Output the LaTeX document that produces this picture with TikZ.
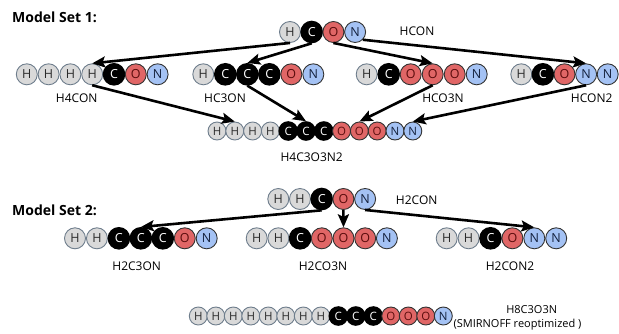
\documentclass[tikz,border=0pt]{standalone}
\usepackage{fontspec}
\setmainfont{Open Sans}
\usetikzlibrary{arrows.meta}
\definecolor{hfill}{HTML}{D9D9D9}
\definecolor{hdraw}{HTML}{6E7D8C}
\definecolor{htext}{HTML}{2A2A2A}
\definecolor{ofill}{HTML}{E06666}
\definecolor{otext}{HTML}{5A0C0C}
\definecolor{nfill}{HTML}{A4C2F4}
\definecolor{ntext}{HTML}{14213D}
\definecolor{adraw}{HTML}{333333}
\newcommand\molrow[6]{%
  \foreach \a [count=\i from 1] in {#5} {%
    \node[el\a,#6] (#1\i) at ({#2+(\i-1)*#4},#3) {\a};}}
\tikzset{
  atom/.style={circle, inner sep=0pt, minimum size=21pt, line width=0.9pt,
    font=\fontsize{12.5}{12.5}\selectfont},
  elH/.style={atom, fill=hfill, draw=hdraw, text=htext},
  elC/.style={atom, fill=black, draw=black, line width=1.6pt, text=white},
  elO/.style={atom, fill=ofill, draw=adraw, text=otext},
  elN/.style={atom, fill=nfill, draw=adraw, text=ntext},
  small/.style={minimum size=18pt, font=\fontsize{11.5}{11.5}\selectfont},
  lbl/.style={inner sep=0pt, font=\fontsize{12}{12}\selectfont},
  title/.style={inner sep=0pt, anchor=west, font=\fontsize{14}{14}\selectfont\bfseries},
  arr/.style={line width=2.6pt, -{Stealth[length=13pt,width=11pt,inset=2.5pt]}},
}
\begin{document}
\begin{tikzpicture}[x=1pt,y=-1pt]
\useasboundingbox (0,0) rectangle (619,333);
% titles
\node[title] (t1) at (12,17) {Model Set 1:};
\node[title] (t2) at (12,210) {Model Set 2:};
% Model set 1
\molrow{a}{290}{32}{21.7}{H,C,O,N}{}
\node[lbl] (la) at (417,31) {HCON};
\molrow{b}{26.8}{74.3}{21.8}{H,H,H,H,C,O,N}{}
\node[lbl] (lb) at (76.7,98.3) {H4CON};
\molrow{c}{203.3}{74.3}{22}{H,C,C,C,O,N}{}
\node[lbl] (lc) at (225,98.3) {HC3ON};
\molrow{d}{366.7}{74.3}{22}{H,C,O,O,O,N}{}
\node[lbl] (ld) at (443,98.3) {HCO3N};
\molrow{e}{521.3}{74.3}{21.6}{H,C,O,N,N}{}
\node[lbl] (le) at (591.7,98.3) {HCON2};
\molrow{p}{217}{131}{17.8}{H,H,H,H,C,C,C,O,O,O,N,N}{small}
\node[lbl] (lp) at (311.7,157) {H4C3O3N2};
% Model set 2
\molrow{f}{278.3}{199}{21.7}{H,H,C,O,N}{}
\node[lbl] (lf) at (416.7,200) {H2CON};
\molrow{g}{75}{238.3}{21.95}{H,H,C,C,C,O,N}{}
\node[lbl] (lg) at (136.7,266) {H2C3ON};
\molrow{h}{256.7}{238.3}{21.7}{H,H,C,O,O,O,N}{}
\node[lbl] (lh) at (323,266) {H2CO3N};
\molrow{i}{446.7}{238.3}{21.9}{H,H,C,O,N,N}{}
\node[lbl] (li) at (510,266) {H2CON2};
% bottom
\molrow{q}{198.3}{316}{17.5}{H,H,H,H,H,H,H,H,C,C,C,O,O,O,N}{small}
\node[lbl,font=\fontsize{11}{11}\selectfont] (lq1) at (531.7,309.3) {H8C3O3N};
\node[lbl,font=\fontsize{11}{11}\selectfont] (lq2) at (517.5,324.3) {(SMIRNOFF reoptimized )};
% arrows set 1
\draw[arr] (a1.south) -- (b4.north);
\draw[arr] (a2.south) -- (c3.north);
\draw[arr] (a3.south) -- (d4.north);
\draw[arr] (a4.south east) -- (e4.north);
\draw[arr] (b4.south) -- (p2.north);
\draw[arr] (c3.south) -- (p6.north);
\draw[arr] (d4.south) -- (p9.north);
\draw[arr] (e4.south) -- (p12.north);
% arrows set 2
\draw[arr] (f3.south) -- (g4.north);
\draw[arr] (f4.south) -- (h5.north);
\draw[arr] (f5.south) -- (i5.north);
\end{tikzpicture}
\end{document}
